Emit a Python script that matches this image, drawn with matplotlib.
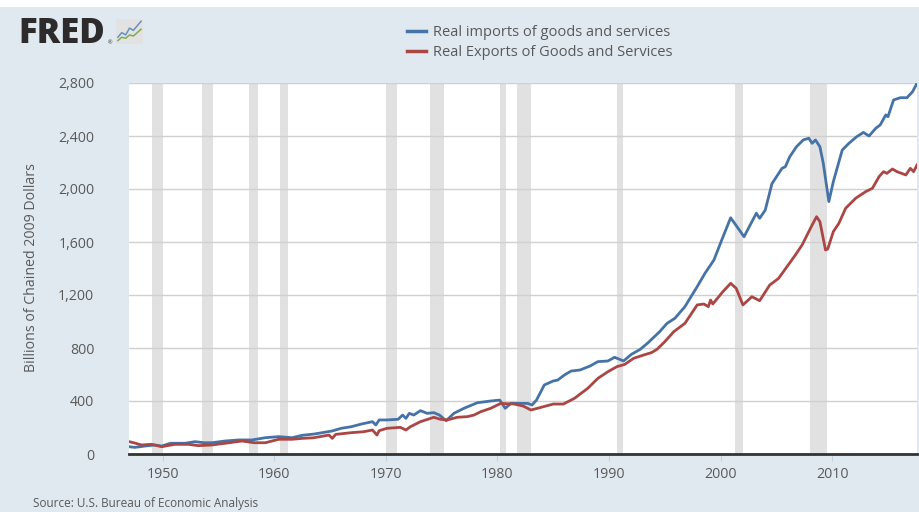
#!/usr/bin/env python3

import matplotlib
matplotlib.use('Agg')
from matplotlib import pyplot as plt
from matplotlib.lines import Line2D

plt.rcParams['font.family'] = ['Open Sans', 'DejaVu Sans']

# Real imports of goods and services (billions of chained 2009 dollars)
imp_years = [1947.0, 1947.5, 1948.4, 1949.3, 1949.9, 1950.7, 1952.0, 1952.9, 1953.7, 1954.4,
             1955.6, 1956.8, 1958.0, 1959.2, 1960.4, 1961.6, 1962.5, 1963.6, 1965.2, 1966.0,
             1966.9, 1967.8, 1968.8, 1969.1, 1969.4, 1970.1, 1971.1, 1971.5, 1971.8, 1972.1,
             1972.5, 1973.1, 1973.7, 1974.3, 1974.8, 1975.4, 1976.1, 1977.0, 1978.2, 1979.4,
             1980.2, 1980.7, 1981.2, 1982.1, 1982.7, 1983.1, 1983.5, 1984.2, 1985.0, 1985.4,
             1986.0, 1986.6, 1987.4, 1988.3, 1989.0, 1989.9, 1990.5, 1991.3, 1992.0, 1992.8,
             1993.5, 1994.5, 1995.2, 1995.9, 1996.8, 1997.9, 1998.6, 1999.4, 2000.1, 2000.9,
             2002.1, 2003.2, 2003.5, 2004.0, 2004.6, 2005.5, 2005.8, 2006.2, 2006.8, 2007.4,
             2007.9, 2008.2, 2008.5, 2008.9, 2009.2, 2009.7, 2010.1, 2010.9, 2011.5, 2012.2,
             2012.8, 2013.3, 2013.9, 2014.3, 2014.8, 2015.0, 2015.5, 2016.1, 2016.7, 2017.2,
             2017.6]
imports = [55, 50, 60, 68, 60, 81, 81, 93, 85, 85,
           98, 106, 106, 123, 131, 123, 141, 151, 174, 194,
           206, 226, 244, 219, 257, 257, 262, 294, 269, 307,
           294, 327, 307, 312, 294, 251, 307, 345, 387, 400,
           407, 345, 382, 382, 382, 370, 407, 521, 551, 558,
           596, 626, 634, 664, 697, 702, 730, 702, 752, 790,
           840, 920, 986, 1024, 1112, 1263, 1364, 1464, 1615, 1783,
           1640, 1817, 1779, 1841, 2040, 2156, 2168, 2244, 2319, 2370,
           2383, 2345, 2370, 2319, 2194, 1905, 2055, 2294, 2345, 2395,
           2427, 2400, 2458, 2483, 2559, 2546, 2672, 2689, 2689, 2734,
           2798]

# Real exports of goods and services
exp_years = [1947.0, 1947.4, 1948.1, 1949.0, 1949.9, 1951.1, 1952.3, 1953.2, 1954.4, 1955.6,
             1957.1, 1958.2, 1959.2, 1960.4, 1961.6, 1962.5, 1963.5, 1964.9, 1965.2, 1965.5,
             1966.9, 1968.0, 1968.8, 1969.2, 1969.4, 1970.1, 1971.3, 1971.8, 1972.2, 1973.1,
             1974.3, 1974.9, 1975.5, 1976.4, 1977.3, 1977.9, 1978.5, 1979.4, 1980.3, 1981.5,
             1982.3, 1983.0, 1983.9, 1985.0, 1985.9, 1986.9, 1988.1, 1989.0, 1989.9, 1990.7,
             1991.4, 1992.2, 1993.1, 1993.8, 1994.3, 1995.0, 1995.8, 1996.8, 1997.3, 1997.9,
             1998.5, 1998.9, 1999.1, 1999.3, 2000.2, 2000.9, 2001.4, 2002.0, 2002.8, 2003.5,
             2004.4, 2005.2, 2006.7, 2007.3, 2008.2, 2008.6, 2008.9, 2009.4, 2009.6, 2010.1,
             2010.6, 2011.2, 2012.1, 2013.0, 2013.6, 2014.2, 2014.6, 2014.9, 2015.4, 2015.8,
             2016.6, 2017.0, 2017.3, 2017.6]
exports = [93, 85, 68, 73, 55, 73, 73, 63, 68, 81,
           98, 85, 85, 111, 111, 118, 122, 143, 118, 148,
           161, 168, 181, 143, 176, 194, 201, 181, 206, 244,
           277, 262, 257, 277, 282, 294, 319, 345, 382, 377,
           362, 332, 352, 377, 377, 420, 496, 571, 621, 659,
           676, 722, 747, 765, 790, 848, 923, 986, 1049, 1125,
           1132, 1112, 1162, 1132, 1225, 1288, 1250, 1125, 1187, 1157,
           1275, 1326, 1502, 1577, 1728, 1791, 1753, 1540, 1547, 1678,
           1741, 1854, 1930, 1980, 2005, 2093, 2131, 2118, 2151, 2131,
           2106, 2156, 2131, 2181]

# Recession periods (start, end)
recessions = [(1949.0, 1950.0), (1953.5, 1954.5), (1957.75, 1958.5), (1960.5, 1961.25),
              (1970.0, 1971.0), (1974.0, 1975.25), (1980.25, 1980.75), (1981.75, 1983.0),
              (1990.75, 1991.25), (2001.25, 2002.0), (2008.0, 2009.5)]

y_ticks = [0, 400, 800, 1200, 1600, 2000, 2400, 2800]
x_ticks = [1950, 1960, 1970, 1980, 1990, 2000, 2010]

bg = '#e1e9f0'
txt = '#595959'
blue = '#4572a7'
red = '#aa4643'

fig = plt.figure(figsize=(9.19, 5.12), dpi=100, facecolor=bg)
# white strip at the very top
fig.patches.append(plt.Rectangle((0, 1 - 7 / 512), 1, 7 / 512, transform=fig.transFigure,
                                 facecolor='white', edgecolor='none', zorder=-1))

ax = fig.add_axes([129 / 919, 58 / 512, 788 / 919, 371 / 512])
ax.set_facecolor('white')

for start, end in recessions:
    ax.axvspan(start, end, color='#e1e1e1', lw=0, zorder=0)

ax.plot(imp_years, imports, color=blue, lw=2.0, zorder=3,
        label='Real imports of goods and services')
ax.plot(exp_years, exports, color=red, lw=2.0, zorder=3,
        label='Real Exports of Goods and Services')

ax.set_xlim(1946.98, 2017.6)
ax.set_ylim(0, 2800)

ax.set_yticks(y_ticks)
ax.set_yticklabels(['{:,}'.format(v) for v in y_ticks])
ax.set_xticks(x_ticks)
ax.grid(axis='y', color='#d0d0d0', lw=1)
ax.set_axisbelow(True)
for s in ['top', 'right', 'left']:
    ax.spines[s].set_visible(False)
ax.spines['bottom'].set_color('#333333')
ax.spines['bottom'].set_linewidth(2)
ax.spines['bottom'].set_zorder(4)
ax.tick_params(axis='y', length=0, pad=25, labelsize=10.2, labelcolor=txt)
ax.tick_params(axis='x', length=5, color='#c0d0e0', pad=4, labelsize=10.2, labelcolor=txt)

fig.text(32 / 919, 1 - 268 / 512, 'Billions of Chained 2009 Dollars', rotation=90,
         ha='center', va='center', fontsize=10.2, color=txt)

handles = [Line2D([], [], color=blue, lw=2.5), Line2D([], [], color=red, lw=2.5)]
fig.legend(handles, ['Real imports of goods and services', 'Real Exports of Goods and Services'],
           loc='upper left', bbox_to_anchor=(407 / 919, 1 - 25 / 512), frameon=False,
           fontsize=10.5, labelcolor=txt, handlelength=1.3, handletextpad=0.45,
           labelspacing=0.36, borderaxespad=0, borderpad=0)

fig.text(33 / 919, 1 - 503 / 512, 'Source: U.S. Bureau of Economic Analysis',
         ha='left', va='center', fontsize=8.5, color=txt)

# FRED logo
fig.text(18 / 919, 1 - 34 / 512, 'FRED', fontsize=25, fontweight='heavy',
         color='#2e2b2c', va='center', ha='left')
fig.text(108 / 919, 1 - 43 / 512, '®', fontsize=4, color='#2e2b2c', va='center')
icon = fig.add_axes([116 / 919, 1 - 44 / 512, 27 / 919, 25 / 512])
icon.set_facecolor('#e2e2e2')
icon.plot([0, 1, 2, 3, 4, 5, 6], [3, 5, 4, 7, 6, 8, 10], color='#6a8fc0', lw=1.1)
icon.plot([0, 1, 2, 3, 4, 5, 6], [1.5, 3, 2.5, 4, 3.5, 5, 6.5], color='#7ab051', lw=1.1)
icon.set_xlim(-0.5, 6.5)
icon.set_ylim(0, 11)
icon.set_xticks([])
icon.set_yticks([])
for s in icon.spines.values():
    s.set_visible(False)

fig.savefig('out.png', dpi=100, facecolor=bg)
